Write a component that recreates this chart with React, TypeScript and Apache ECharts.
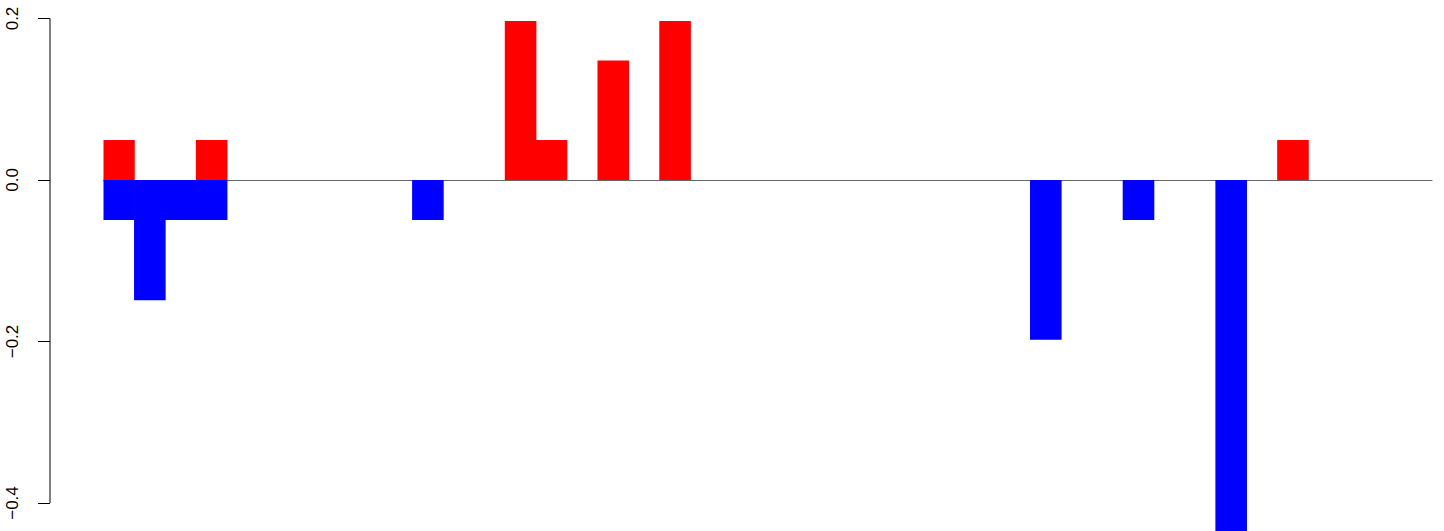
import React, { useEffect, useRef } from "react";
import * as echarts from "echarts";

// 43 contiguous slots
const slots: string[] = Array.from({ length: 43 }, (_, i) => String(i + 1));

const positiveValues: (number | null)[] = [
  0.0495, null, null, 0.0495, null, null, null, null, null, null,
  null, null, null, 0.197, 0.0495, null, 0.148, null, 0.197, null,
  null, null, null, null, null, null, null, null, null, null,
  null, null, null, null, null, null, null, null, 0.0495, null,
  null, null, null,
];

const negativeValues: (number | null)[] = [
  -0.0495, -0.149, -0.0495, -0.0495, null, null, null, null, null, null,
  -0.0495, null, null, null, null, null, null, null, null, null,
  null, null, null, null, null, null, null, null, null, null,
  -0.198, null, null, -0.0495, null, null, -0.5, null, null, null,
  null, null, null,
];

const yTicks: number[] = [-0.4, -0.2, 0, 0.2];
const yMin = -0.4347;
const yMax = 0.2229;

export default function App() {
  const ref = useRef<HTMLDivElement>(null);
  useEffect(() => {
    if (!ref.current) return;
    const chart = echarts.init(ref.current, null, { renderer: "svg" });
    const fmt = (v: number) => {
      const s = Math.abs(v).toFixed(1);
      return v < -1e-9 ? "\u2212" + s : s;
    };
    chart.setOption({
      animation: false,
      grid: { left: 103.5, right: 12, top: 0, bottom: 0, containLabel: false },
      xAxis: {
        type: "category",
        data: slots,
        boundaryGap: true,
        axisLine: { show: true, onZero: true, lineStyle: { color: "#666", width: 1 } },
        axisTick: { show: false },
        axisLabel: { show: false },
        splitLine: { show: false },
      },
      yAxis: {
        type: "value",
        min: yMin,
        max: yMax,
        offset: 53.5,
        axisLine: { show: false },
        splitLine: { show: false },
        axisTick: {
          show: true,
          customValues: yTicks,
          length: 12,
          lineStyle: { color: "#000", width: 1 },
        },
        axisLabel: {
          show: true,
          customValues: yTicks,
          rotate: 90,
          margin: 29,
          color: "#000",
          fontSize: 17,
          fontFamily: "Liberation Sans, Arial, sans-serif",
          formatter: (v: number) => fmt(v),
        },
      },
      series: [
        {
          type: "bar",
          data: positiveValues,
          barWidth: 31.6,
          barGap: "-100%",
          barCategoryGap: 0,
          itemStyle: { color: "#ff0000" },
          clip: true,
          z: 3,
        },
        {
          type: "bar",
          data: negativeValues,
          barWidth: 31.6,
          barGap: "-100%",
          barCategoryGap: 0,
          itemStyle: { color: "#0000ff" },
          clip: true,
          z: 3,
        },
      ],
    });
    const top = chart.convertToPixel({ yAxisIndex: 0 }, yTicks[yTicks.length - 1]) as number;
    const bot = chart.convertToPixel({ yAxisIndex: 0 }, yTicks[0]) as number;
    chart.setOption({
      graphic: [
        {
          type: "line",
          shape: { x1: 50, y1: top, x2: 50, y2: bot },
          style: { stroke: "#000", lineWidth: 1 },
          z: 10,
        },
      ],
    });
    return () => chart.dispose();
  }, []);
  return (
    <div
      ref={ref}
      style={{ position: "fixed", left: 0, top: 0, width: 1444, height: 531, background: "#fff" }}
    />
  );
}
